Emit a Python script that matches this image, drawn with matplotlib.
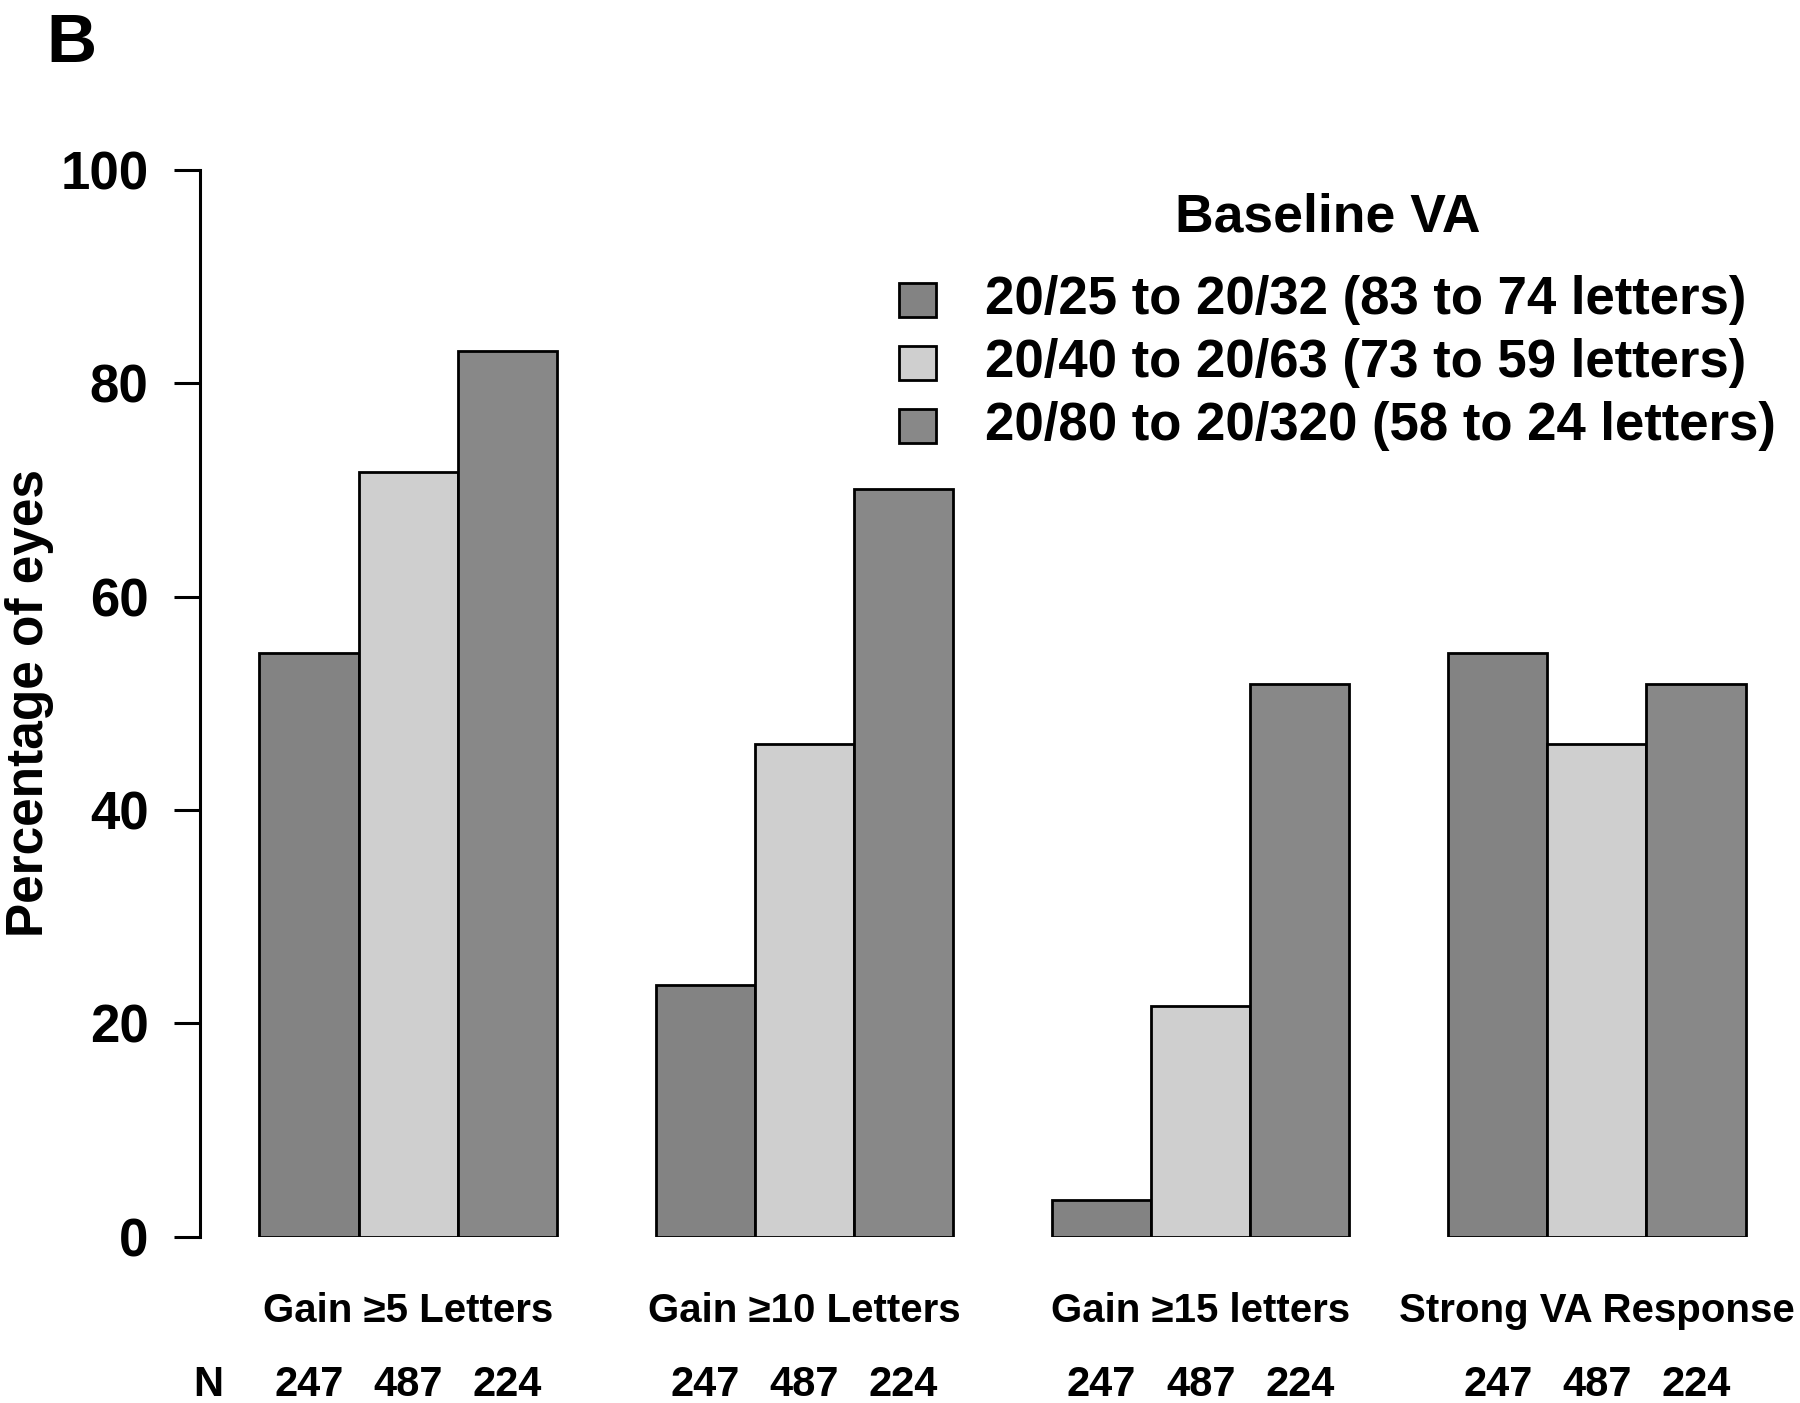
import matplotlib
matplotlib.use("Agg")
import matplotlib.pyplot as plt
from matplotlib import font_manager as fm
from matplotlib.patches import Rectangle
import matplotlib.transforms as mtransforms

categories = ["Gain \u22655 Letters", "Gain \u226510 Letters", "Gain \u226515 letters", "Strong VA Response"]
series_labels = ["20/25 to 20/32 (83 to 74 letters)",
                 "20/40 to 20/63 (73 to 59 letters)",
                 "20/80 to 20/320 (58 to 24 letters)"]
values_2025 = [54.7, 23.6, 3.4, 54.7]
values_2040 = [71.7, 46.2, 21.6, 46.2]
values_2080 = [83.0, 70.1, 51.8, 51.8]
n_counts = ["247", "487", "224"]
yticks = [0, 20, 40, 60, 80, 100]
colors = ["#838383", "#cfcfcf", "#888888"]

def has_font(name):
    try:
        fm.findfont(fm.FontProperties(family=name), fallback_to_default=False)
        return True
    except Exception:
        return False

narrow = "Liberation Sans Narrow" if has_font("Liberation Sans Narrow") else "Liberation Sans"
plt.rcParams['font.family'] = ['Liberation Sans', 'DejaVu Sans']

W, H = 1800, 1403
fig = plt.figure(figsize=(W / 100, H / 100), dpi=100)
ax = fig.add_axes([200 / W, (H - 1236.7) / H, 1605 / W, 1066.7 / H])

series = [values_2025, values_2040, values_2080]
for g in range(len(categories)):
    start = 1 + 4 * g
    for s in range(3):
        ax.bar(start + s, series[s][g], width=1, align='edge', color=colors[s],
               edgecolor='black', linewidth=2.0)

ax.set_xlim(0.4, 16.6)
ax.set_ylim(0, 100)
for sp in ['top', 'right', 'bottom']:
    ax.spines[sp].set_visible(False)
ax.spines['left'].set_linewidth(2.2)
ax.spines['left'].set_bounds(0, 100)
ax.set_xticks([])
ax.set_yticks(yticks)
ax.set_yticklabels([str(t) for t in yticks], fontsize=38, fontweight='bold')
ax.tick_params(axis='y', length=19, width=2.2, pad=18)

fig.text(30 / W, 1 - 703 / H, "Percentage of eyes", rotation=90, ha='center', va='center',
         fontsize=37, fontweight='bold')

# category labels and N counts
blend = mtransforms.blended_transform_factory(ax.transData, fig.transFigure)
for g, cat in enumerate(categories):
    start = 1 + 4 * g
    ax.text(start + 1.5, 1 - 1311 / H, cat, transform=blend, ha='center', va='center',
            fontsize=29, fontweight='bold', family=[narrow, 'DejaVu Sans'])
    for s in range(3):
        ax.text(start + s + 0.5, 1 - 1385 / H, n_counts[s], transform=blend, ha='center',
                va='center', fontsize=30, fontweight='bold', family=[narrow, 'DejaVu Sans'])
fig.text(208 / W, 1 - 1385 / H, "N", ha='center', va='center', fontsize=30,
         fontweight='bold', family=[narrow, 'DejaVu Sans'])

# legend
fig.text(1328 / W, 1 - 218 / H, "Baseline VA", ha='center', va='center', fontsize=38.5,
         fontweight='bold', family=[narrow, 'DejaVu Sans'])
ys = [300, 363, 426]
for s in range(3):
    fig.patches.append(Rectangle((899 / W, 1 - (ys[s] + 17) / H), 37 / W, 34 / H,
                                 transform=fig.transFigure, facecolor=colors[s],
                                 edgecolor='black', linewidth=2.0))
    fig.text(985 / W, 1 - ys[s] / H, series_labels[s], ha='left', va='center', fontsize=38,
             fontweight='bold', family=[narrow, 'DejaVu Sans'])

fig.text(46 / W, 1 - 12 / H, "B", ha='left', va='top', fontsize=50, fontweight='bold')

fig.savefig("out.png", dpi=100, facecolor='white')
